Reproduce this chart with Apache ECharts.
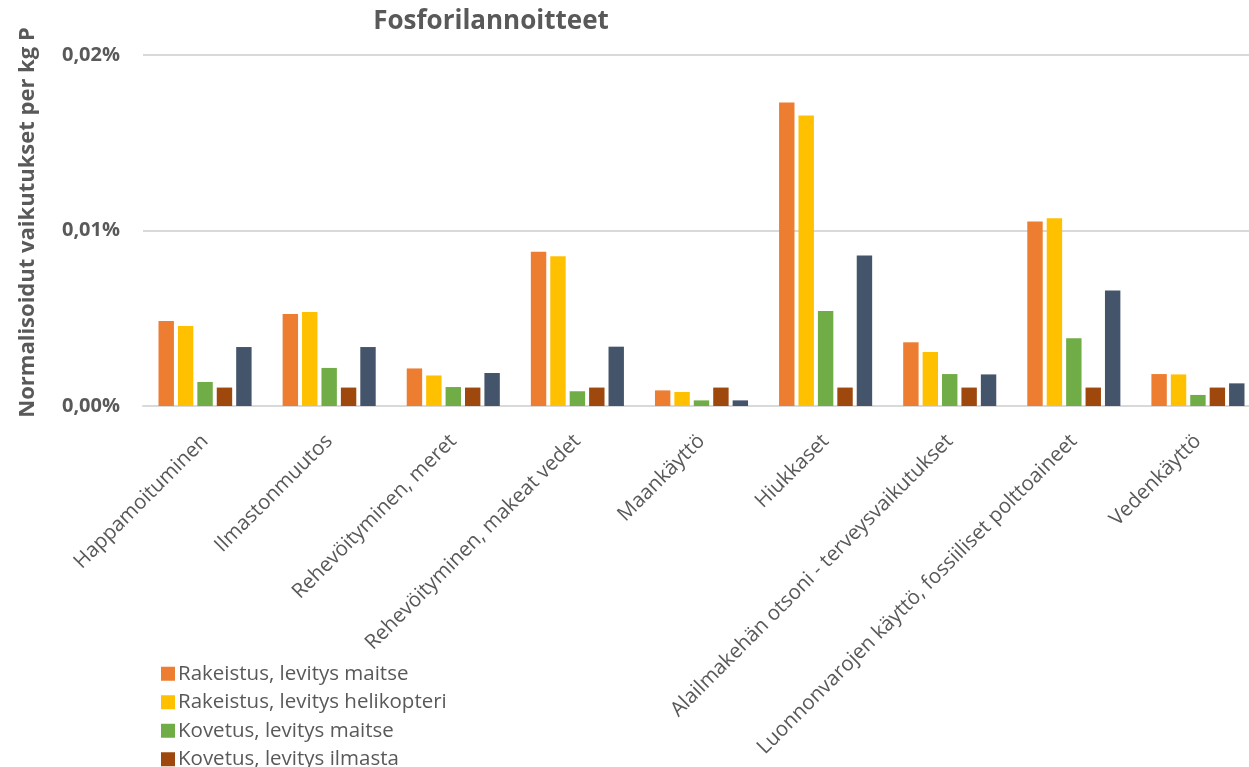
<!DOCTYPE html>
<html>
<head>
<meta charset="utf-8">
<script src="https://cdn.jsdelivr.net/npm/echarts@6/dist/echarts.min.js"></script>
<style>
  html, body { margin: 0; padding: 0; background: #fff; overflow: hidden; }
  #chart { width: 1249px; height: 767px; }
</style>
</head>
<body>
<div id="chart"></div>
<script>
// Impact categories (x axis)
const categories = [
  'Happamoituminen',
  'Ilmastonmuutos',
  'Rehevöityminen, meret',
  'Rehevöityminen, makeat vedet',
  'Maankäyttö',
  'Hiukkaset',
  'Alailmakehän otsoni - terveysvaikutukset',
  'Luonnonvarojen käyttö, fossiiliset polttoaineet',
  'Vedenkäyttö'
];

// Normalised impacts per kg P, in percent
const seriesNames = [
  'Rakeistus, levitys maitse',
  'Rakeistus, levitys helikopteri',
  'Kovetus, levitys maitse',
  'Kovetus, levitys ilmasta',
  'Kovetus, levitys helikopteri'
];
const rakeistusMaitse      = [0.00484, 0.00524, 0.00214, 0.00879, 0.00089, 0.01729, 0.00363, 0.01051, 0.00182];
const rakeistusHelikopteri = [0.00456, 0.00536, 0.00174, 0.00853, 0.00080, 0.01655, 0.00308, 0.01070, 0.00180];
const kovetusMaitse        = [0.00137, 0.00217, 0.00108, 0.00084, 0.00032, 0.00541, 0.00182, 0.00386, 0.00063];
const kovetusIlmasta       = [0.00105, 0.00105, 0.00105, 0.00105, 0.00105, 0.00105, 0.00105, 0.00105, 0.00105];
const kovetusHelikopteri   = [0.00336, 0.00336, 0.00188, 0.00338, 0.00032, 0.00857, 0.00180, 0.00658, 0.00129];

const seriesData = [rakeistusMaitse, rakeistusHelikopteri, kovetusMaitse, kovetusIlmasta, kovetusHelikopteri];
const colors = ['#ED7D31', '#FFC000', '#70AD47', '#9E480E', '#44546A'];

const yTicks = { min: 0, max: 0.02, interval: 0.01 };

const FONT = '"Open Sans", "Noto Sans", sans-serif';
const GREY = '#595959';

const chart = echarts.init(document.getElementById('chart'), null, { renderer: 'canvas' });

chart.setOption({
  animation: false,
  color: colors,
  title: {
    text: 'Fosforilannoitteet',
    left: 486,
    top: 4,
    textAlign: 'center',
    textStyle: { fontFamily: FONT, fontSize: 26, fontWeight: 'bold', color: GREY }
  },
  // the legend runs on past the bottom edge of the canvas
  legend: {
    orient: 'vertical',
    left: 156,
    top: 655,
    height: 400,
    itemWidth: 14,
    itemHeight: 14,
    itemGap: 1,
    icon: 'rect',
    data: seriesNames,
    textStyle: { fontFamily: FONT, fontSize: 20.5, lineHeight: 27.5, color: GREY, padding: [0, 0, 0, -2] }
  },
  // the plot area runs a little past the right edge of the canvas
  grid: { left: 143, right: -11, top: 55, bottom: 361, containLabel: false, outerBoundsMode: 'none' },
  xAxis: {
    type: 'category',
    data: categories,
    axisLine: { show: true, lineStyle: { color: '#D9D9D9', width: 2 } },
    axisTick: { show: false },
    axisLabel: {
      interval: 0,
      rotate: 45,
      margin: 32,
      fontFamily: FONT,
      fontSize: 20.5,
      color: GREY
    }
  },
  yAxis: {
    type: 'value',
    min: yTicks.min,
    max: yTicks.max,
    interval: yTicks.interval,
    name: 'Normalisoidut vaikutukset per kg P',
    nameLocation: 'middle',
    nameGap: 104,
    nameRotate: 90,
    nameTextStyle: { fontFamily: FONT, fontSize: 22, fontWeight: 'bold', color: GREY, padding: [0, 0, 0, 16] },
    axisLine: { show: false },
    axisTick: { show: false },
    splitLine: { lineStyle: { color: '#D9D9D9', width: 2 } },
    axisLabel: {
      margin: 23,
      fontFamily: FONT,
      fontSize: 20,
      fontWeight: 'bold',
      color: GREY,
      formatter: v => v.toFixed(2).replace('.', ',') + '%'
    }
  },
  series: seriesNames.map((name, i) => ({
    name: name,
    type: 'bar',
    data: seriesData[i],
    barGap: '26%',
    barCategoryGap: '25%',
    itemStyle: { color: colors[i] }
  }))
});
</script>
</body>
</html>
